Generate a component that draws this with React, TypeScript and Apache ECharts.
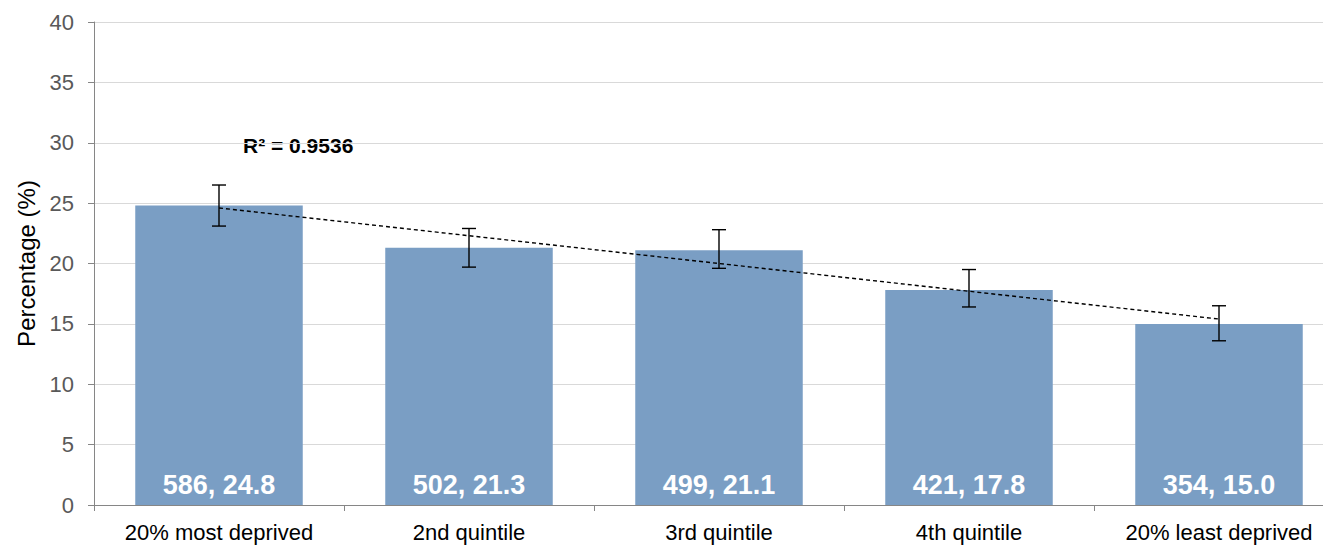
import React, { useEffect, useRef } from "react";
import * as echarts from "echarts";

const categories = ["20% most deprived", "2nd quintile", "3rd quintile", "4th quintile", "20% least deprived"];
const counts = [586, 502, 499, 421, 354];
const percentages = [24.8, 21.3, 21.1, 17.8, 15.0];
const ciLower = [23.1, 19.7, 19.6, 16.4, 13.6];
const ciUpper = [26.5, 22.9, 22.8, 19.5, 16.5];
const trendPoints: [number, number][] = [[0, 24.6], [4, 15.4]];
const yTicks = { min: 0, max: 40, interval: 5 };
const rSquaredText = "R² = 0.9536";

const FONT = "Arial, 'Liberation Sans', sans-serif";

export default function App() {
  const ref = useRef<HTMLDivElement>(null);
  useEffect(() => {
    if (!ref.current) return;
    const chart = echarts.init(ref.current, null, { renderer: "svg" });
    const errData = categories.map((_, i) => [i, ciLower[i], ciUpper[i]]);
    chart.setOption({
      animation: false,
      textStyle: { fontFamily: FONT },
      grid: { left: 94, top: 22, bottom: 42, right: 0 },
      xAxis: {
        type: "category",
        data: categories,
        axisLine: { lineStyle: { color: "#868686", width: 1 } },
        axisTick: { show: true, length: 6, lineStyle: { color: "#868686" } },
        axisLabel: { color: "#000", fontSize: 22, margin: 16, fontFamily: FONT, interval: 0 },
      },
      yAxis: {
        type: "value",
        min: yTicks.min,
        max: yTicks.max,
        interval: yTicks.interval,
        name: "Percentage (%)",
        nameLocation: "middle",
        nameGap: 55,
        nameTextStyle: { color: "#000", fontSize: 24, fontFamily: FONT },
        axisLine: { show: true, lineStyle: { color: "#868686", width: 1 } },
        axisTick: { show: true, length: 6, lineStyle: { color: "#868686" } },
        axisLabel: { color: "#595959", fontSize: 22, margin: 20, fontFamily: FONT },
        splitLine: { lineStyle: { color: "#D9D9D9", width: 1 } },
      },
      graphic: [
        {
          type: "text",
          left: 243,
          top: 135,
          style: { text: rSquaredText, fill: "#000", font: `bold 21px ${FONT}` },
        },
      ],
      series: [
        {
          type: "bar",
          data: percentages,
          barCategoryGap: "33%",
          itemStyle: { color: "#7A9EC4" },
          label: {
            show: true,
            position: "insideBottom",
            distance: 7,
            color: "#fff",
            fontWeight: "bold",
            fontSize: 27,
            fontFamily: FONT,
            formatter: (p: any) => `${counts[p.dataIndex]}, ${percentages[p.dataIndex].toFixed(1)}`,
          },
        },
        {
          type: "line",
          data: trendPoints,
          symbol: "none",
          lineStyle: { color: "#000", width: 1.4, type: [4, 3] },
          z: 5,
        },
        {
          type: "custom",
          data: errData,
          z: 6,
          renderItem: (params: any, api: any) => {
            const i = api.value(0);
            const lo = api.coord([i, api.value(1)]);
            const hi = api.coord([i, api.value(2)]);
            const hw = 7;
            const style = { stroke: "#000", lineWidth: 1.4 };
            return {
              type: "group",
              children: [
                { type: "line", shape: { x1: lo[0], y1: lo[1], x2: hi[0], y2: hi[1] }, style },
                { type: "line", shape: { x1: hi[0] - hw, y1: hi[1], x2: hi[0] + hw, y2: hi[1] }, style },
                { type: "line", shape: { x1: lo[0] - hw, y1: lo[1], x2: lo[0] + hw, y2: lo[1] }, style },
              ],
            };
          },
        },
      ],
    });
    return () => chart.dispose();
  }, []);
  return (
    <div style={{ position: "fixed", left: 0, top: 0, width: 1323, height: 547, overflow: "hidden", background: "#fff" }}>
      <div ref={ref} style={{ width: 1344, height: 547 }} />
    </div>
  );
}
